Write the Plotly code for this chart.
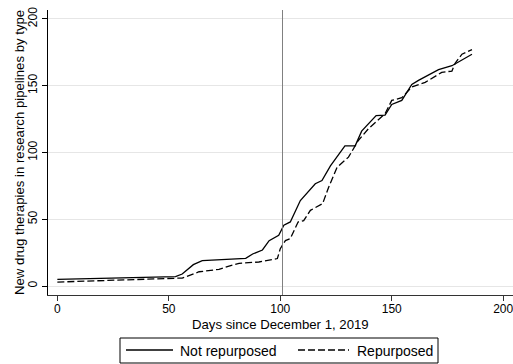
import plotly.graph_objects as go

# Not repurposed
days_not = [0, 20, 40, 53, 56, 61, 65, 75, 84.5, 87.6, 92, 95, 99.3, 101.6, 104.5, 109, 115.7,
            118.7, 122.5, 129, 133.6, 136.5, 143, 147, 150, 154.5, 159, 162, 171, 177, 186]
vals_not = [5, 5.7, 6.4, 7, 9, 16, 19, 19.6, 20.7, 24, 27, 34, 38, 45.5, 48, 64, 76.6,
            79, 90, 105, 105, 116, 127.6, 128, 136, 139, 151, 154, 162, 165, 173.6]

# Repurposed
days_rep = [0, 20, 40, 56, 63.6, 72.5, 78.5, 81.5, 90.4, 98.7, 100, 102.3, 104.5, 108, 110.5,
            113.5, 119, 121.7, 125.5, 130.6, 135, 139.5, 147, 150, 154.5, 159, 165, 172.4,
            177, 178.5, 181.5, 186]
vals_rep = [3, 4, 5, 6, 10.7, 12.5, 15.7, 17, 18, 20.6, 28, 34, 35.5, 48, 49,
            56.7, 61.7, 74, 89, 96.5, 109, 117.7, 129, 139, 141, 149, 152.5, 160,
            161, 167, 173.6, 177]

series_names = ["Not repurposed", "Repurposed"]
x_title = "Days since December 1, 2019"
y_title = "New drug therapies in research pipelines by type"
vline_day = 101

x_ticks = [0, 50, 100, 150, 200]
y_ticks = [0, 50, 100, 150, 200]

DASH = "7px,3px"

fig = go.Figure()
fig.add_trace(go.Scatter(x=days_not, y=vals_not, mode="lines", name=series_names[0],
                         line=dict(color="black", width=1.3)))
fig.add_trace(go.Scatter(x=days_rep, y=vals_rep, mode="lines", name=series_names[1],
                         line=dict(color="black", width=1.3, dash=DASH)))

fig.add_shape(type="line", x0=vline_day, x1=vline_day, y0=0, y1=1, xref="x", yref="paper",
              line=dict(color="#808080", width=1))

family = "Liberation Sans, Arial, sans-serif"
tickfont = dict(family=family, size=12, color="black")
titlefont = dict(family=family, size=13.2, color="black")
legfont = dict(family=family, size=14, color="black")

# plot area: x 48..513 px, y 10..295 px
L, W, T, H = 48, 465, 10, 285
def px(x):
    return (x - L) / W
def py(y):
    return (T + H - y) / H

# axis titles
fig.add_annotation(xref="paper", yref="paper", x=px(19.5), y=0.5, text=y_title,
                   textangle=-90, showarrow=False, xanchor="center", yanchor="middle",
                   font=titlefont)
fig.add_annotation(xref="paper", yref="paper", x=px(280), y=py(325), text=x_title,
                   showarrow=False, xanchor="center", yanchor="middle", font=titlefont)

# custom legend
fig.add_shape(type="rect", xref="paper", yref="paper",
              x0=px(120), x1=px(438), y0=py(338), y1=py(363),
              line=dict(color="black", width=1), fillcolor="white")
fig.add_shape(type="line", xref="paper", yref="paper",
              x0=px(126), x1=px(173), y0=py(350), y1=py(350),
              line=dict(color="black", width=1.3))
fig.add_shape(type="line", xref="paper", yref="paper",
              x0=px(298), x1=px(349), y0=py(350), y1=py(350),
              line=dict(color="black", width=1.3, dash=DASH))
fig.add_annotation(xref="paper", yref="paper", x=px(178), y=py(350.5), text=series_names[0],
                   showarrow=False, xanchor="left", yanchor="middle", font=legfont)
fig.add_annotation(xref="paper", yref="paper", x=px(355), y=py(350.5), text=series_names[1],
                   showarrow=False, xanchor="left", yanchor="middle", font=legfont)

fig.update_layout(
    width=513, height=364,
    margin=dict(l=L, r=0, t=T, b=364 - T - H),
    plot_bgcolor="white", paper_bgcolor="white",
    font=tickfont,
    showlegend=False,
    xaxis=dict(range=[-4.2, 204.4], tickvals=x_ticks, showgrid=False, zeroline=False,
               automargin=False, tickfont=tickfont, ticklabeloverflow="allow",
               ticklabelstandoff=-2,
               showline=True, linecolor="#333333", linewidth=1,
               ticks="outside", ticklen=5, tickcolor="#333333"),
    yaxis=dict(range=[-6.7, 206.7], tickvals=y_ticks, showgrid=True, gridcolor="#e6e6e6",
               gridwidth=1, zeroline=False, automargin=False, tickfont=tickfont,
               showline=True, linecolor="black", linewidth=1,
               ticks="outside", ticklen=5, tickcolor="black", tickangle=-90),
)

fig.write_html("out.html", config={"displayModeBar": False},
               post_script="document.body.style.margin='0';")
